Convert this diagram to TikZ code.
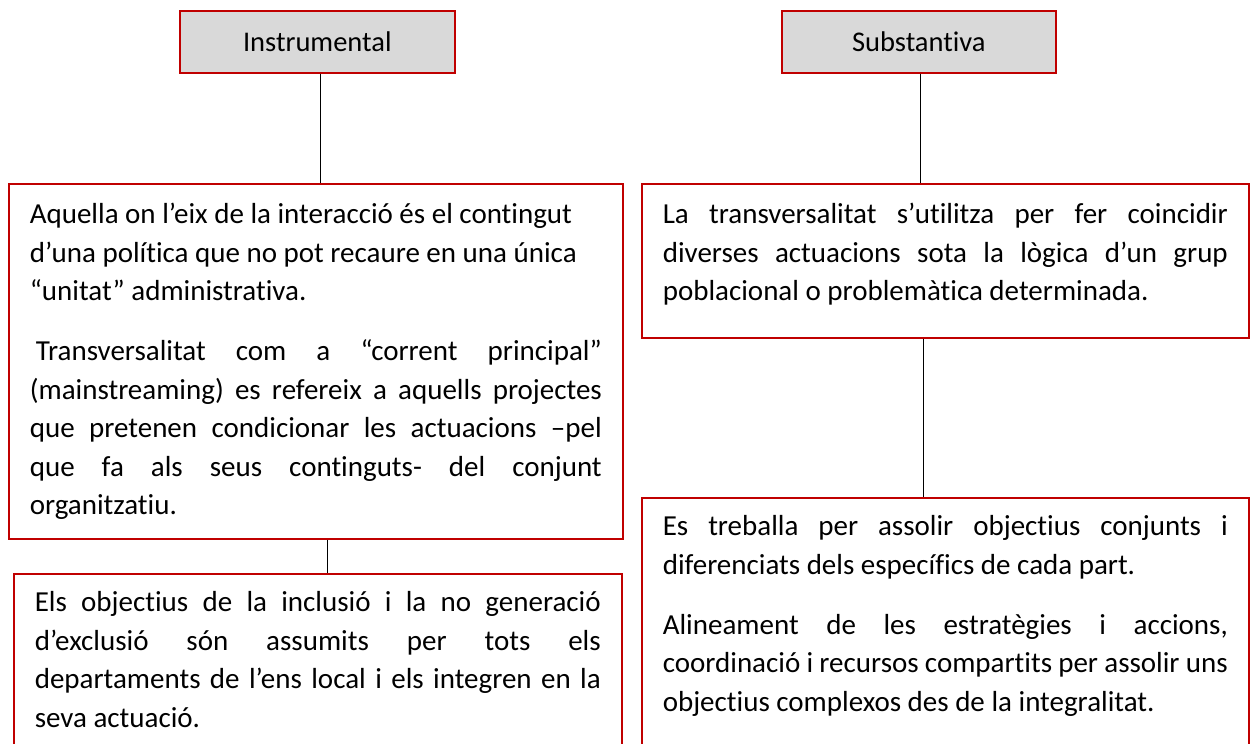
\documentclass[tikz,border=0pt]{standalone}
\usepackage{fontspec}
\setmainfont{Carlito}[Ligatures=NoCommon]
\usetikzlibrary{positioning}

\definecolor{boxred}{RGB}{192,0,0}
\definecolor{titlegray}{RGB}{217,217,217}

% first line sits a fixed distance below the frame
\newcommand{\topgap}[1][40pt]{\rule{0pt}{#1}}
\newcommand{\paragap}{\par\vspace{21.5pt}}
\newcommand{\boxtext}[3]{\parbox[c][#1][t]{#2}{\fontsize{29pt}{38.5pt}\selectfont #3}}

\tikzset{
  titlebox/.style={draw=boxred, line width=1.6pt, fill=titlegray, minimum width=275pt,
    minimum height=62pt, inner sep=0pt, anchor=north west, font=\fontsize{28.5pt}{34pt}\selectfont},
  textbox/.style={draw=boxred, line width=1.6pt, inner xsep=21pt, inner ysep=0pt, anchor=north west},
  link/.style={draw=black, line width=0.8pt}
}

\begin{document}
\begin{tikzpicture}[x=1pt, y=1pt]
\useasboundingbox (0,0) rectangle (1250,-744);
\clip (0,0) rectangle (1250,-744);

% headings
\node[titlebox] (inst) at (179,-10) {Instrumental};
\node[titlebox, minimum width=274pt] (subs) at (781,-10) {Substantiva};

% left column
\node[textbox] (instA) at (8,-183) {\boxtext{355pt}{572pt}{%
\topgap Aquella on l’eix de la interacció és el contingut\newline
d’una política que no pot recaure en una única\newline
“unitat” administrativa.\paragap
\hspace*{6pt}Transversalitat com a “corrent principal”\linebreak
(mainstreaming) es refereix a aquells projectes\linebreak
que pretenen condicionar les actuacions –pel\linebreak
que fa als seus continguts- del conjunt\linebreak
organitzatiu.}};

\node[textbox] (instB) at (13,-573) {\boxtext{220pt}{566pt}{%
\topgap[38pt]Els objectius de la inclusió i la no generació\linebreak
d’exclusió són assumits per tots els\linebreak
departaments de l’ens local i els integren en la\linebreak
seva actuació.}};

% right column
\node[textbox] (subsA) at (641,-183) {\boxtext{154pt}{565pt}{%
\topgap La transversalitat s’utilitza per fer coincidir\linebreak
diverses actuacions sota la lògica d’un grup\linebreak
poblacional o problemàtica determinada.}};

\node[textbox] (subsB) at (641,-497) {\boxtext{280pt}{565pt}{%
\topgap[38pt]Es treballa per assolir objectius conjunts i\linebreak
diferenciats dels específics de cada part.\paragap
Alineament de les estratègies i accions,\linebreak
coordinació i recursos compartits per assolir uns\linebreak
objectius complexos des de la integralitat.}};

% connectors
\draw[link] ([xshift=3pt]inst.south) -- ([xshift=3pt]inst.south |- instA.north);
\draw[link] ([xshift=2pt]subs.south) -- ([xshift=2pt]subs.south |- subsA.north);
\draw[link] ([xshift=11.5pt]instA.south) -- ([xshift=11.5pt]instA.south |- instB.north);
\draw[link] ([xshift=-21.5pt]subsA.south) -- ([xshift=-21.5pt]subsA.south |- subsB.north);
\end{tikzpicture}
\end{document}
